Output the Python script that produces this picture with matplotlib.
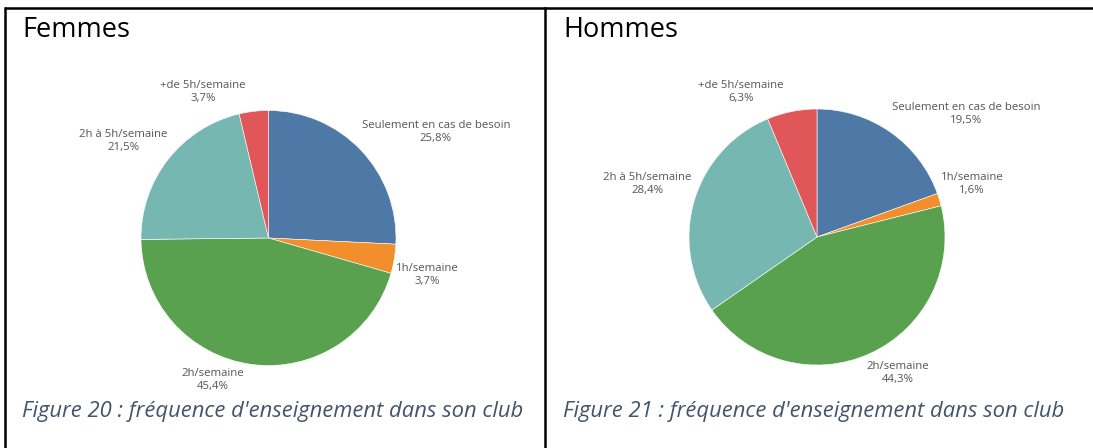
import matplotlib.pyplot as plt

categories = ["Seulement en cas de besoin", "1h/semaine", "2h/semaine",
              "2h à 5h/semaine", "+de 5h/semaine"]
femmes = [25.8, 3.7, 45.4, 21.5, 3.7]
hommes = [19.5, 1.6, 44.3, 28.4, 6.3]
titles = ["Femmes", "Hommes"]
captions = ["Figure 20 : fréquence d'enseignement dans son club",
            "Figure 21 : fréquence d'enseignement dans son club"]

colors = ["#4e79a7", "#f28e2b", "#59a14f", "#76b7b2", "#e15759"]

W, H = 1093, 448
fig = plt.figure(figsize=(W / 100, H / 100), dpi=100)
ax = fig.add_axes([0, 0, 1, 1])
ax.set_xlim(0, W)
ax.set_ylim(0, H)
ax.set_aspect("equal")
ax.axis("off")

# panel layout, image pixels (y from top)
panels = [
    dict(vals=femmes, cx=268.5, cy=238, r=127.5, x0=22,
         lab=[(436, 132), (427, 275), (213, 380), (123, 141), (203, 92)]),
    dict(vals=hommes, cx=817, cy=237, r=128, x0=563,
         lab=[(966, 114), (972, 184), (898, 373), (647, 184), (741, 92)]),
]

for p, title, cap in zip(panels, titles, captions):
    ax.pie(p["vals"], colors=colors, startangle=90, counterclock=False,
           center=(p["cx"], H - p["cy"]), radius=p["r"],
           wedgeprops=dict(edgecolor="white", linewidth=0.4))
    for name, v, (lx, ly) in zip(categories, p["vals"], p["lab"]):
        ax.text(lx, H - ly, f"{name}\n{v:.1f}%".replace(".", ","),
                ha="center", va="center", fontsize=8.2, color="#555555",
                family="Open Sans", linespacing=1.35)
    ax.text(p["x0"], H - 30, title, ha="left", va="center", fontsize=19.5,
            family="Open Sans", color="black")
    ax.text(p["x0"], H - 412, cap, ha="left", va="center", fontsize=15.85,
            family="Open Sans", style="italic", color="#44546a")

# table borders
ax.plot([5, W], [H - 8, H - 8], color="black", lw=1.8, solid_capstyle="butt")
ax.plot([5, 5], [0, H - 8], color="black", lw=1.8)
ax.plot([545, 545], [0, H - 8], color="black", lw=1.8)

ax.set_xlim(0, W)
ax.set_ylim(0, H)
fig.savefig("out.png", dpi=100)
